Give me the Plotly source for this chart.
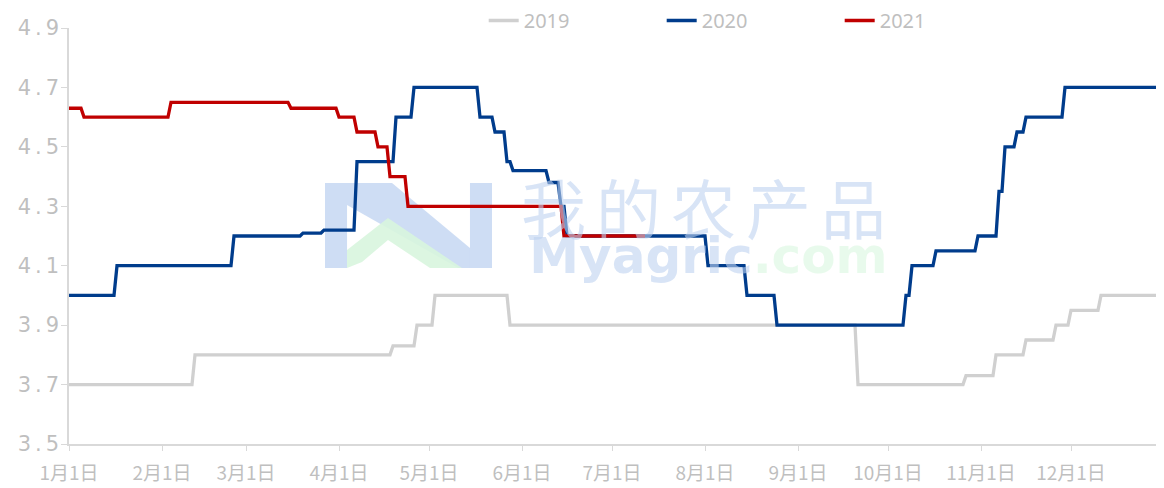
import plotly.graph_objects as go

BASE_YEAR = 2021

MONTH_TICKS = ["01-01", "02-01", "03-01", "04-01", "05-01", "06-01",
               "07-01", "08-01", "09-01", "10-01", "11-01", "12-01"]
MONTH_LABELS = ["1月1日", "2月1日", "3月1日", "4月1日", "5月1日", "6月1日",
                "7月1日", "8月1日", "9月1日", "10月1日", "11月1日", "12月1日"]

Y_TICKS = [3.5, 3.7, 3.9, 4.1, 4.3, 4.5, 4.7, 4.9]
Y_LABELS = ["3.5", "3.7", "3.9", "4.1", "4.3", "4.5", "4.7", "4.9"]

DATES_2019 = ["01-01", "02-11", "02-12", "04-18", "04-19", "04-26", "04-27",
              "05-02", "05-03", "05-27", "05-28", "09-20", "09-21", "10-26",
              "10-27", "11-05", "11-06", "11-15", "11-16", "11-25", "11-26",
              "11-30", "12-01", "12-10", "12-11", "12-31"]
VALUES_2019 = [3.70, 3.70, 3.80, 3.80, 3.83, 3.83, 3.90,
               3.90, 4.00, 4.00, 3.90, 3.90, 3.70, 3.70,
               3.73, 3.73, 3.80, 3.80, 3.85, 3.85, 3.90,
               3.90, 3.95, 3.95, 4.00, 4.00]

DATES_2020 = ["01-01", "01-16", "01-17", "02-24", "02-25", "03-19", "03-20",
              "03-26", "03-27", "04-06", "04-07", "04-19", "04-20", "04-25",
              "04-26", "05-17", "05-18", "05-22", "05-23", "05-26", "05-27",
              "05-28", "05-29", "06-09", "06-10", "06-13", "06-14", "06-15",
              "06-16", "08-01", "08-02", "08-14", "08-15", "08-24", "08-25",
              "10-06", "10-07", "10-08", "10-09", "10-16", "10-17", "10-30",
              "10-31", "11-06", "11-07", "11-08", "11-09", "11-12", "11-13",
              "11-15", "11-16", "11-28", "11-29", "12-31"]
VALUES_2020 = [4.00, 4.00, 4.10, 4.10, 4.20, 4.20, 4.21,
               4.21, 4.22, 4.22, 4.45, 4.45, 4.60, 4.60,
               4.70, 4.70, 4.60, 4.60, 4.55, 4.55, 4.45,
               4.45, 4.42, 4.42, 4.38, 4.38, 4.30, 4.30,
               4.20, 4.20, 4.10, 4.10, 4.00, 4.00, 3.90,
               3.90, 4.00, 4.00, 4.10, 4.10, 4.15, 4.15,
               4.20, 4.20, 4.35, 4.35, 4.50, 4.50, 4.55,
               4.55, 4.60, 4.60, 4.70, 4.70]

DATES_2021 = ["01-01", "01-05", "01-06", "02-03", "02-04", "03-15", "03-16",
              "03-31", "04-01", "04-06", "04-07", "04-13", "04-14", "04-17",
              "04-18", "04-23", "04-24", "06-14", "06-15", "07-12"]
VALUES_2021 = [4.63, 4.63, 4.60, 4.60, 4.65, 4.65, 4.63,
               4.63, 4.60, 4.60, 4.55, 4.55, 4.50, 4.50,
               4.40, 4.40, 4.30, 4.30, 4.20, 4.20]

SERIES = [
    ("2019", DATES_2019, VALUES_2019, "#D0D0D0"),
    ("2020", DATES_2020, VALUES_2020, "#003C8C"),
    ("2021", DATES_2021, VALUES_2021, "#C00000"),
]


def to_date(md):
    return f"{BASE_YEAR}-{md}"


fig = go.Figure()
for name, dates, values, color in SERIES:
    fig.add_trace(go.Scatter(
        x=[to_date(d) for d in dates], y=values, name=name, mode="lines",
        line=dict(color=color, width=3.3), hoverinfo="x+y+name"))

GREY_TXT = "#BFBFBF"
AXIS_CLR = "#D9D9D9"

# page body has an 8px default margin, so the figure is offset by 8px
OFF = 8
W, H = 1164 - OFF, 488 - OFF
ML, MR, MT, MB = 69 - OFF, 0, 28 - OFF, 44
# plot area in screenshot pixels
IMG_L, IMG_R, IMG_T, IMG_B = 69, 1164, 28, 444


def px(xp, yp):
    return (xp - IMG_L) / (IMG_R - IMG_L), (IMG_B - yp) / (IMG_B - IMG_T)


def path(points):
    segs = []
    for i, (a, b) in enumerate(points):
        xx, yy = px(a, b)
        segs.append(("M" if i == 0 else "L") + f"{xx:.4f},{yy:.4f}")
    return " ".join(segs) + " Z"


LOGO_BLUE = "rgba(198,215,242,0.85)"
LOGO_GREEN = "rgba(216,245,222,0.9)"
shapes = [
    dict(type="path", xref="paper", yref="paper", layer="below", line_width=0,
         fillcolor=LOGO_BLUE,
         path=path([(325, 183), (347, 183), (347, 268), (325, 268)])),
    dict(type="path", xref="paper", yref="paper", layer="below", line_width=0,
         fillcolor=LOGO_BLUE,
         path=path([(347, 183), (392, 183), (470, 248), (470, 268),
                    (458, 268), (347, 205)])),
    dict(type="path", xref="paper", yref="paper", layer="below", line_width=0,
         fillcolor=LOGO_BLUE,
         path=path([(470, 183), (492, 183), (492, 268), (470, 268)])),
    dict(type="path", xref="paper", yref="paper", layer="below", line_width=0,
         fillcolor=LOGO_GREEN,
         path=path([(347, 250), (388, 218), (462, 268), (430, 268),
                    (388, 240), (362, 262), (347, 268)])),
]

wx, wy = px(708, 222)
annotations = [
    dict(text=("<span style='font-size:65px;letter-spacing:10px'>我的农产品</span><br>"
               "<span style='font-size:50px;font-family:DejaVu Sans;font-weight:bold'>"
               "Myagric<span style='color:rgba(205,245,212,0.75)'>.com</span></span>"),
         xref="paper", yref="paper", x=wx, y=wy,
         showarrow=False, xanchor="center", yanchor="middle", align="center",
         font=dict(family="Noto Sans CJK SC", size=30,
                   color="rgba(190,210,240,0.6)")),
]

# legend top just above the figure top, in plot-area (paper) units
LEG_TOP_PX = -7
leg_y = 1 + (MT - LEG_TOP_PX) / (H - MT - MB)

fig.update_layout(
    width=W, height=H,
    margin=dict(l=ML, r=MR, t=MT, b=MB, pad=0, autoexpand=False),
    plot_bgcolor="white", paper_bgcolor="white",
    font=dict(family="Noto Sans CJK SC, Noto Sans, sans-serif", color=GREY_TXT),
    shapes=shapes, annotations=annotations,
    showlegend=True,
    legend=dict(orientation="h", xref="container", yref="paper",
                x=0.4115, y=leg_y, xanchor="left", yanchor="top",
                font=dict(size=20, color=GREY_TXT, family="Noto Sans"),
                entrywidth=133, entrywidthmode="pixels",
                bgcolor="rgba(0,0,0,0)"),
    xaxis=dict(type="date",
               range=[to_date("01-01"), f"{BASE_YEAR + 1}-01-01"],
               tickvals=[to_date(d) for d in MONTH_TICKS], ticktext=MONTH_LABELS,
               showgrid=False, zeroline=False, showline=True,
               linecolor=AXIS_CLR, linewidth=1.5, ticks="outside", ticklen=5,
               tickcolor=AXIS_CLR, tickwidth=1.2, ticklabelstandoff=6,
               tickfont=dict(size=19, color=GREY_TXT,
                             family="Noto Sans CJK SC")),
    yaxis=dict(range=[3.5, 4.9], tickvals=Y_TICKS,
               ticktext=[f"<span style='letter-spacing:4px'>{t}</span>"
                         for t in Y_LABELS],
               showgrid=False, zeroline=False, showline=True,
               linecolor=AXIS_CLR, linewidth=1.5, ticks="outside", ticklen=6,
               tickcolor=AXIS_CLR, tickwidth=1.2, ticklabelstandoff=-6,
               tickfont=dict(size=21, color=GREY_TXT, family="DejaVu Sans")),
)

fig.write_html("out.html")
